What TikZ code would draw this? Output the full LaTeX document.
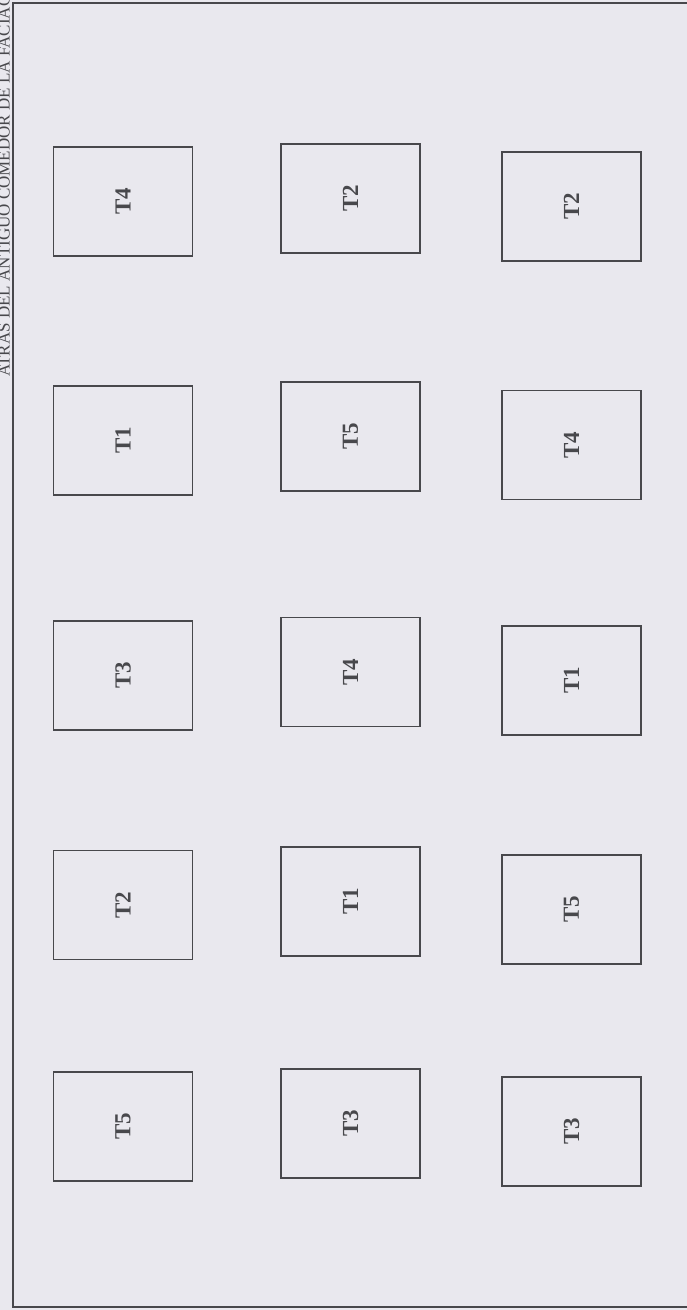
\documentclass[tikz,border=0pt]{standalone}
\usepackage{fontspec}
\setmainfont{Liberation Serif}
\definecolor{paper}{RGB}{233,232,238}
\definecolor{ink}{RGB}{72,72,76}
\begin{document}
\begin{tikzpicture}[x=1pt,y=1pt,
  tbl/.style={draw=ink, line width=1.8pt, rectangle, rotate=90, inner sep=0pt,
    minimum width=109pt, minimum height=139pt, text=ink,
    font=\fontsize{23}{23}\selectfont\bfseries},
  side/.style={rotate=90, anchor=base west, inner sep=0pt, text=ink,
    font=\fontsize{17}{17}\selectfont}]
\useasboundingbox (0,0) rectangle (687,-1310);
\clip (0,0) rectangle (687,-1310);
\fill[paper] (0,0) rectangle (687,-1310);
% outer frame
\draw[ink, line width=1.6pt] (760,-3) -- (13,-3) -- (13,-1307) -- (760,-1307);
% side text
\node[side] (note) at (9.5,-377) {ATRAS DEL ANTIGUO COMEDOR DE LA FACIAG};
% column 1
\node[tbl] (a1) at (123,-201.5) {T4};
\node[tbl] (a2) at (123,-440.5) {T1};
\node[tbl] (a3) at (123,-675.5) {T3};
\node[tbl] (a4) at (123,-905) {T2};
\node[tbl] (a5) at (123,-1126.5) {T5};
% column 2
\node[tbl] (b1) at (350.5,-198.5) {T2};
\node[tbl] (b2) at (350.5,-436.5) {T5};
\node[tbl] (b3) at (350.5,-672) {T4};
\node[tbl] (b4) at (350.5,-901.5) {T1};
\node[tbl] (b5) at (350.5,-1123.5) {T3};
% column 3
\node[tbl] (c1) at (571.5,-206.5) {T2};
\node[tbl] (c2) at (571.5,-445) {T4};
\node[tbl] (c3) at (571.5,-680.5) {T1};
\node[tbl] (c4) at (571.5,-909.5) {T5};
\node[tbl] (c5) at (571.5,-1131.5) {T3};
\end{tikzpicture}
\end{document}
